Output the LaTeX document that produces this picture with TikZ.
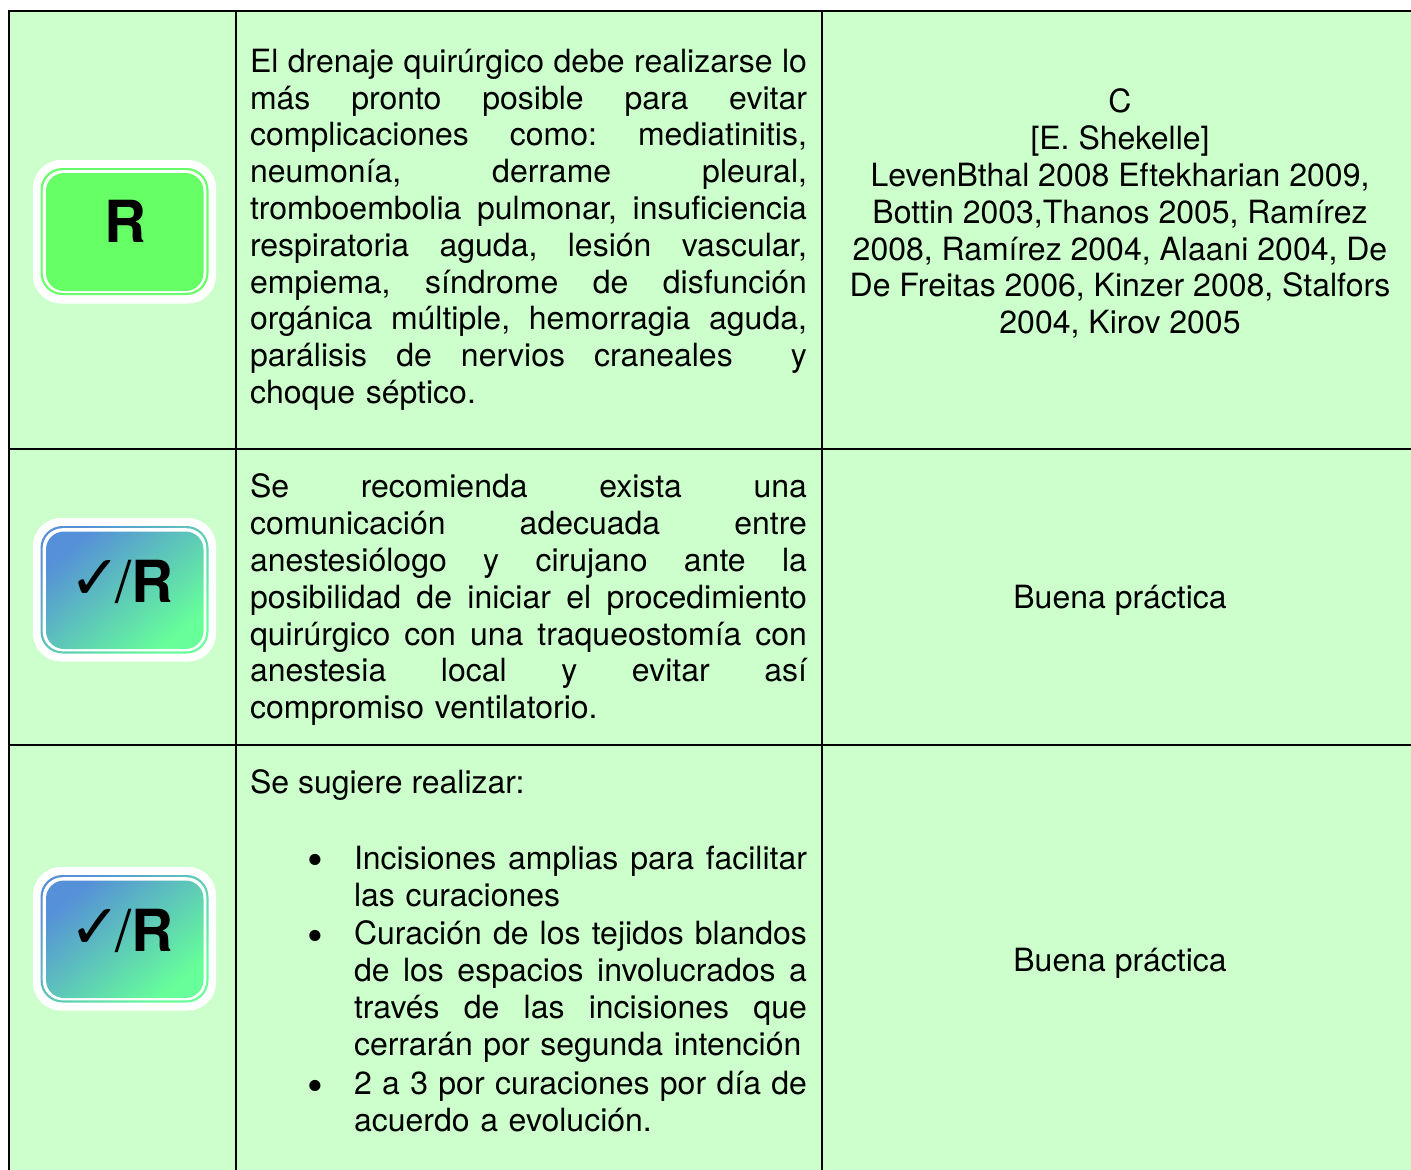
\documentclass[tikz,border=0pt]{standalone}
\usepackage{fontspec}
\setmainfont{TeX Gyre Heros}
\newfontfamily\dejavu{DejaVu Sans}
\frenchspacing
\newcommand{\jl}[2][557pt]{\hbox to #1{\frenchspacing\spaceskip=0.278em plus 1fil minus 0.08em\relax #2}}
\newcommand{\nl}[1]{\hbox{\frenchspacing #1}}
\newcommand{\chk}{\makebox[47pt][l]{✓}}
\definecolor{cellgreen}{HTML}{CCFFCC}
\definecolor{badgegreen}{HTML}{66FF66}
\definecolor{gradblue}{HTML}{5590D8}
\definecolor{gradgreen}{HTML}{66FF99}
\tikzset{
  x=1pt,y=-1pt,
  rule/.style={line width=2pt,black},
  body/.style={inner sep=0pt,outer sep=0pt,anchor=base west,font=\fontsize{32}{36.8}\selectfont},
  para/.style={body,text width=#1},
  cen/.style={inner sep=0pt,outer sep=0pt,anchor=base,align=center,font=\fontsize{32}{36.8}\selectfont},
  halo/.style={fill=white,rounded corners=28pt},
  bfont/.style={font=\fontsize{58}{58}\selectfont\bfseries,inner sep=0pt,anchor=base},
  blt/.style={inner sep=0pt,anchor=base,font=\fontsize{45}{45}\selectfont},
  grad/.style={left color=gradblue,right color=gradgreen,shading angle=40},
  chkfont/.style={inner sep=0pt,anchor=base west,font=\fontsize{62}{62}\selectfont\dejavu},
  slash/.style={inner sep=0pt,anchor=base,font=\fontsize{58}{58}\selectfont},
}
\newcommand{\badgeR}[1]{%
  \fill[halo] (33,#1) rectangle (216,#1+143.5);
  \fill[badgegreen,rounded corners=22pt] (40.5,#1+8) rectangle (208.5,#1+135);
  \fill[white,rounded corners=20pt] (42.7,#1+10.2) rectangle (206.3,#1+132.8);
  \fill[badgegreen,rounded corners=18pt] (46,#1+13) rectangle (203.5,#1+131);
}
\newcommand{\badgeG}[1]{%
  \fill[halo] (33,#1) rectangle (216,#1+143.5);
  \shade[grad,rounded corners=22pt] (40.5,#1+8) rectangle (208.5,#1+135.5);
  \fill[white,rounded corners=20pt] (42.7,#1+10.2) rectangle (206.3,#1+133.3);
  \shade[grad,rounded corners=18pt] (46,#1+13.5) rectangle (203.5,#1+131);
}
\begin{document}
\begin{tikzpicture}
\useasboundingbox (0,0) rectangle (1411,1170);
\fill[white] (0,0) rectangle (1411,1170);
\fill[cellgreen] (9,11) rectangle (1411,1170);
\draw[rule] (9,1170) -- (9,11) -- (1411,11);
\draw[rule] (236,11) -- (236,1170);
\draw[rule] (822,11) -- (822,1170);
\draw[rule] (9,449) -- (1411,449);
\draw[rule] (9,745) -- (1411,745);

\badgeR{160}
\badgeG{518}
\badgeG{867}
\node[bfont] (r1) at (125,242) {R};
\node[bfont,anchor=base east] (r2) at (174,602) {R};
\node[slash] (s2) at (124,602) {/};
\node[chkfont] (c2) at (69,599) {\chk};
\node[bfont,anchor=base east] (r3) at (174,951) {R};
\node[slash] (s3) at (124,951) {/};
\node[chkfont] (c3) at (69,948) {\chk};

\node[para=557pt,anchor=north west] (t1) at (250,49) {%
\jl{El drenaje quirúrgico debe realizarse lo}
\jl{más pronto posible para evitar}
\jl{complicaciones como: mediatinitis,}
\jl{neumonía, derrame pleural,}
\jl{tromboembolia pulmonar, insuficiencia}
\jl{respiratoria aguda, lesión vascular,}
\jl{empiema, síndrome de disfunción}
\jl{orgánica múltiple, hemorragia aguda,}
\jl{parálisis de nervios craneales\space\space y}
\nl{choque séptico.}};

\node[para=557pt,anchor=north west] (t2) at (250,474) {%
\jl{Se recomienda exista una}
\jl{comunicación adecuada entre}
\jl{anestesiólogo y cirujano ante la}
\jl{posibilidad de iniciar el procedimiento}
\jl{quirúrgico con una traqueostomía con}
\jl{anestesia local y evitar así}
\nl{compromiso ventilatorio.}};

\node[body] (t3) at (250,793) {Se sugiere realizar:};
\node[blt] (b1) at (315,875) {•};
\node[para=453pt,anchor=north west] (t4) at (354,846) {%
\jl[453pt]{Incisiones amplias para facilitar}
\nl{las curaciones}};
\node[blt] (b2) at (315,951) {•};
\node[para=453pt,anchor=north west] (t5) at (354,921) {%
\jl[453pt]{Curación de los tejidos blandos}
\jl[453pt]{de los espacios involucrados a}
\jl[453pt]{través de las incisiones que}
\nl{cerrarán por segunda intención}};
\node[blt] (b3) at (315,1101) {•};
\node[para=453pt,anchor=north west] (t6) at (354,1071) {%
\jl[453pt]{2 a 3 por curaciones por día de}
\nl{acuerdo a evolución.}};

\node[cen,anchor=north] (e1) at (1120,89) {C\\{}[E. Shekelle]\\LevenBthal 2008 Eftekharian 2009,\\Bottin 2003,Thanos 2005, Ramírez\\2008, Ramírez 2004, Alaani 2004, De\\De Freitas 2006, Kinzer 2008, Stalfors\\2004, Kirov 2005};
\node[cen] (e2) at (1120,608) {Buena práctica};
\node[cen] (e3) at (1120,971) {Buena práctica};
\end{tikzpicture}
\end{document}
